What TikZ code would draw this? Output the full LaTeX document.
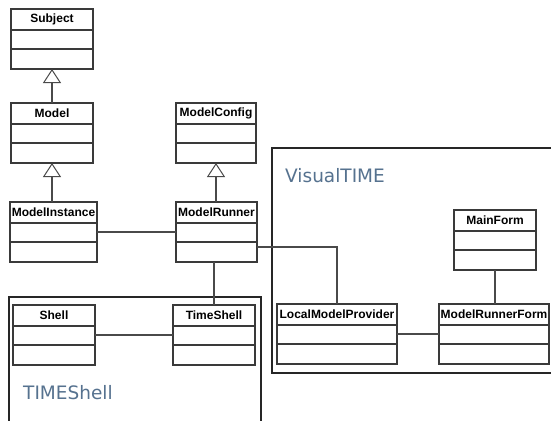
\documentclass[tikz,border=0pt]{standalone}
\usepackage{fontspec}
\setmainfont{Liberation Sans}
\newfontfamily\pkgfont{DejaVu Sans}
\usetikzlibrary{arrows.meta,calc}

\definecolor{boxline}{HTML}{3A3A3A}
\definecolor{wire}{HTML}{4A4A4A}
\definecolor{pkgtext}{HTML}{56728F}

\tikzset{
  classbox/.style={draw=boxline, line width=1.1pt, rectangle, minimum height=60pt,
                   inner sep=0pt, outer sep=0pt, anchor=north west},
  classrule/.style={draw=boxline, line width=1.1pt},
  classtitle/.style={font=\bfseries\fontsize{12}{13}\selectfont, inner sep=0pt},
  package/.style={draw=black!85, line width=1.3pt},
  pkglabel/.style={font=\pkgfont\fontsize{18.5}{20}\selectfont, text=pkgtext,
                   anchor=base west, inner sep=0pt},
  assoc/.style={draw=wire, line width=1.1pt},
  inherit/.style={draw=wire, line width=1.1pt,
                  -{Triangle[open, length=14pt, width=18pt, line width=1pt]}},
}

% class box: name, left, top, width, title
\newcommand\umlclass[5]{%
  \node[classbox, minimum width=#4pt] (#1) at (#2,#3) {};
  \draw[classrule] ([yshift=-21pt]#1.north west) -- ([yshift=-21pt]#1.north east);
  \draw[classrule] ([yshift=-40pt]#1.north west) -- ([yshift=-40pt]#1.north east);
  \node[classtitle] at ([yshift=-10.5pt]#1.north) {#5};
}

\begin{document}
\begin{tikzpicture}[x=1pt, y=-1pt]
  \useasboundingbox[fill=white] (0,0) rectangle (551,420);

  % packages
  \draw[package] (9,440) -- (9,297) -- (261,297) -- (261,440);
  \draw[package] (570,148) -- (272,148) -- (272,373) -- (570,373);
  \node[pkglabel] (visuallbl) at (285,182) {VisualTIME};
  \node[pkglabel] (shelllbl) at (23,399) {TIMEShell};

  % classes
  \umlclass{Subject}{11}{9}{82}{Subject}
  \umlclass{Model}{11}{103}{82}{Model}
  \umlclass{ModelConfig}{176}{103}{80}{ModelConfig}
  \umlclass{ModelInstance}{10}{202}{87}{ModelInstance}
  \umlclass{ModelRunner}{176}{202}{81}{ModelRunner}
  \umlclass{Shell}{13}{305}{82}{Shell}
  \umlclass{TimeShell}{173}{305}{82}{TimeShell}
  \umlclass{MainForm}{454}{210}{82}{MainForm}
  \umlclass{LocalModelProvider}{277}{304}{120}{LocalModelProvider}
  \umlclass{ModelRunnerForm}{439}{304}{110}{ModelRunnerForm}

  % generalisations
  \draw[inherit] (Model.north) -- (Subject.south);
  \draw[inherit] (ModelInstance.north -| Model.south) -- (Model.south);
  \draw[inherit] (ModelRunner.north -| ModelConfig.south) -- (ModelConfig.south);

  % associations
  \draw[assoc] (ModelInstance.east) -- (ModelRunner.west);
  \draw[assoc] ([yshift=-15pt]ModelRunner.east) -| (LocalModelProvider.north);
  \draw[assoc] (TimeShell.north |- ModelRunner.south) -- (TimeShell.north);
  \draw[assoc] (Shell.east) -- (TimeShell.west);
  \draw[assoc] (LocalModelProvider.east) -- (ModelRunnerForm.west);
  \draw[assoc] (MainForm.south) -- (MainForm.south |- ModelRunnerForm.north);
\end{tikzpicture}
\end{document}
